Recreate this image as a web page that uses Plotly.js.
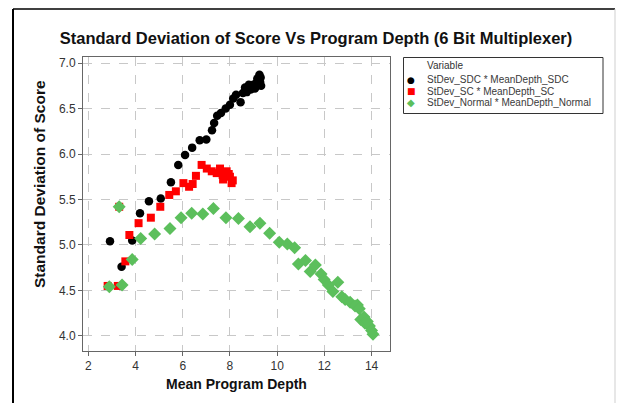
<!DOCTYPE html>
<html>
<head>
<meta charset="utf-8">
<script src="https://cdn.plot.ly/plotly-3.0.1.min.js"></script>
<style>html,body{margin:0;padding:0;background:#fff;}#chart{width:618px;height:403px;}</style>
</head>
<body>
<div id="chart"></div>
<script>
// ---- data ----
const seriesNames = ["StDev_SDC * MeanDepth_SDC", "StDev_SC * MeanDepth_SC", "StDev_Normal * MeanDepth_Normal"];
const legendTitle = "Variable";

const sdcX = [2.92, 3.31, 3.41, 3.86, 4.19, 4.57, 5.07, 5.50, 5.81, 6.10, 6.40, 6.72, 7.00, 7.24, 7.33, 7.46, 7.62, 7.82, 8.00, 8.14, 8.26, 8.45, 8.55, 8.64, 8.71, 8.80, 8.88, 8.99, 9.06, 9.11, 9.16, 9.25, 9.28, 9.32, 9.20, 9.30];
const sdcY = [5.04, 5.42, 4.76, 5.05, 5.35, 5.48, 5.51, 5.69, 5.88, 5.99, 6.07, 6.15, 6.16, 6.26, 6.34, 6.42, 6.45, 6.50, 6.54, 6.61, 6.65, 6.57, 6.67, 6.73, 6.68, 6.76, 6.71, 6.76, 6.72, 6.78, 6.83, 6.87, 6.79, 6.75, 6.80, 6.84];

const scX = [2.82, 3.25, 3.31, 3.57, 3.74, 4.13, 4.65, 5.05, 5.43, 5.71, 6.03, 6.27, 6.42, 6.56, 6.80, 7.02, 7.23, 7.44, 7.58, 7.69, 7.86, 7.71, 8.00, 8.07, 8.12, 7.95];
const scY = [4.55, 4.55, 5.42, 4.82, 5.11, 5.24, 5.30, 5.42, 5.55, 5.59, 5.68, 5.64, 5.67, 5.76, 5.88, 5.84, 5.81, 5.79, 5.84, 5.77, 5.81, 5.72, 5.75, 5.68, 5.71, 5.78];

const normalX = [2.89, 3.31, 3.43, 3.86, 4.22, 4.81, 5.46, 5.93, 6.38, 6.85, 7.30, 7.83, 8.36, 8.85, 9.27, 9.68, 10.09, 10.43, 10.74, 10.90, 11.20, 11.40, 11.62, 11.86, 11.99, 12.17, 12.36, 12.57, 12.74, 12.88, 13.09, 13.30, 13.40, 13.48, 13.54, 13.68, 13.72, 13.82, 13.91, 14.00, 14.06];
const normalY = [4.54, 5.42, 4.56, 4.84, 5.07, 5.12, 5.18, 5.30, 5.35, 5.34, 5.40, 5.30, 5.29, 5.20, 5.24, 5.13, 5.03, 5.01, 4.97, 4.79, 4.83, 4.71, 4.78, 4.68, 4.62, 4.56, 4.49, 4.59, 4.43, 4.40, 4.37, 4.33, 4.34, 4.30, 4.18, 4.21, 4.14, 4.16, 4.11, 4.06, 4.02];

const xTicks = [2, 4, 6, 8, 10, 12, 14];
const yTicks = [4.0, 4.5, 5.0, 5.5, 6.0, 6.5, 7.0];
const yTickText = ["4.0", "4.5", "5.0", "5.5", "6.0", "6.5", "7.0"];

// ---- styling ----
const colors = ["#000000", "#ff0000", "#5cbf5c"];
const symbols = ["circle", "square", "diamond"];
const sizes = [8.5, 8, 10];
const glyphs = ["\u25CF", "\u25A0", "\u25C6"];
const FONT = "Liberation Sans, Arial, sans-serif";

const xs = [sdcX, scX, normalX];
const ys = [sdcY, scY, normalY];

const traces = xs.map((x, i) => ({
  type: "scatter", mode: "markers", name: seriesNames[i],
  x: x, y: ys[i],
  marker: {color: colors[i], symbol: symbols[i], size: sizes[i], line: {width: 0}},
  showlegend: false, hoverinfo: "x+y"
}));

// plot area in pixels: left 83, right 390, top 57, bottom 351
const L = 83, R = 390, T = 57, B = 351;
const px = v => (v - L) / (R - L);
const py = v => (B - v) / (B - T);

const shapes = [
  // outer frame
  {type: "line", xref: "paper", yref: "paper", x0: px(13), x1: px(13), y0: py(9), y1: py(403), line: {color: "#000", width: 2}},
  {type: "line", xref: "paper", yref: "paper", x0: px(13), x1: px(615), y0: py(9), y1: py(9), line: {color: "#000", width: 1.5}},
  {type: "line", xref: "paper", yref: "paper", x0: px(615), x1: px(615), y0: py(9), y1: py(403), line: {color: "#cfcfcf", width: 1}},
  // legend box
  {type: "rect", xref: "paper", yref: "paper", x0: px(403.5), x1: px(603), y0: py(113.5), y1: py(57.5), line: {color: "#333", width: 1}, fillcolor: "rgba(0,0,0,0)"}
];

const legendRowsY = [79.5, 91, 102.5];
const annotations = [
  {xref: "paper", yref: "paper", x: px(425), y: py(65.5), text: legendTitle, showarrow: false, xanchor: "left", yanchor: "middle", font: {family: FONT, size: 10, color: "#333"}},
  {xref: "paper", yref: "paper", x: px(39), y: py(184), text: "<b>Standard Deviation of Score</b>", textangle: -90, showarrow: false, xanchor: "center", yanchor: "middle", font: {family: FONT, size: 15.5, color: "#111"}}
];
seriesNames.forEach((n, i) => {
  annotations.push({xref: "paper", yref: "paper", x: px(411), y: py(legendRowsY[i]), text: glyphs[i], showarrow: false, xanchor: "center", yanchor: "middle", font: {family: "DejaVu Sans", size: i === 2 ? 10 : 9, color: colors[i]}});
  annotations.push({xref: "paper", yref: "paper", x: px(424.5), y: py(legendRowsY[i]), text: n, showarrow: false, xanchor: "left", yanchor: "middle", font: {family: FONT, size: 10, color: "#3a3a3a"}});
});

const axisCommon = {
  showline: true, linecolor: "#666", linewidth: 1, mirror: true,
  showgrid: true, gridcolor: "#c8c8c8", griddash: "dash", gridwidth: 1,
  zeroline: false, ticks: "outside", ticklen: 4, tickcolor: "#666",
  tickfont: {family: FONT, size: 12, color: "#333"}
};

const layout = {
  width: 618, height: 403,
  margin: {l: L, r: 618 - R, t: T, b: 403 - B, pad: 0},
  paper_bgcolor: "#fff", plot_bgcolor: "#fff",
  showlegend: false,
  title: {text: "<b>Standard Deviation of Score Vs Program Depth (6 Bit Multiplexer)</b>", font: {family: FONT, size: 16.5, color: "#111"}, x: 316 / 618, xref: "container", xanchor: "center", y: 1 - 38 / 403, yref: "container", yanchor: "middle"},
  xaxis: Object.assign({}, axisCommon, {range: [1.776, 14.78], tickvals: xTicks, title: {text: "<b>Mean Program Depth</b>", font: {family: FONT, size: 14, color: "#111"}, standoff: 6}}),
  yaxis: Object.assign({}, axisCommon, {range: [3.835, 7.066], tickvals: yTicks, ticktext: yTickText}),
  shapes: shapes,
  annotations: annotations
};

Plotly.newPlot("chart", traces, layout, {displayModeBar: false, staticPlot: true});
</script>
</body>
</html>
